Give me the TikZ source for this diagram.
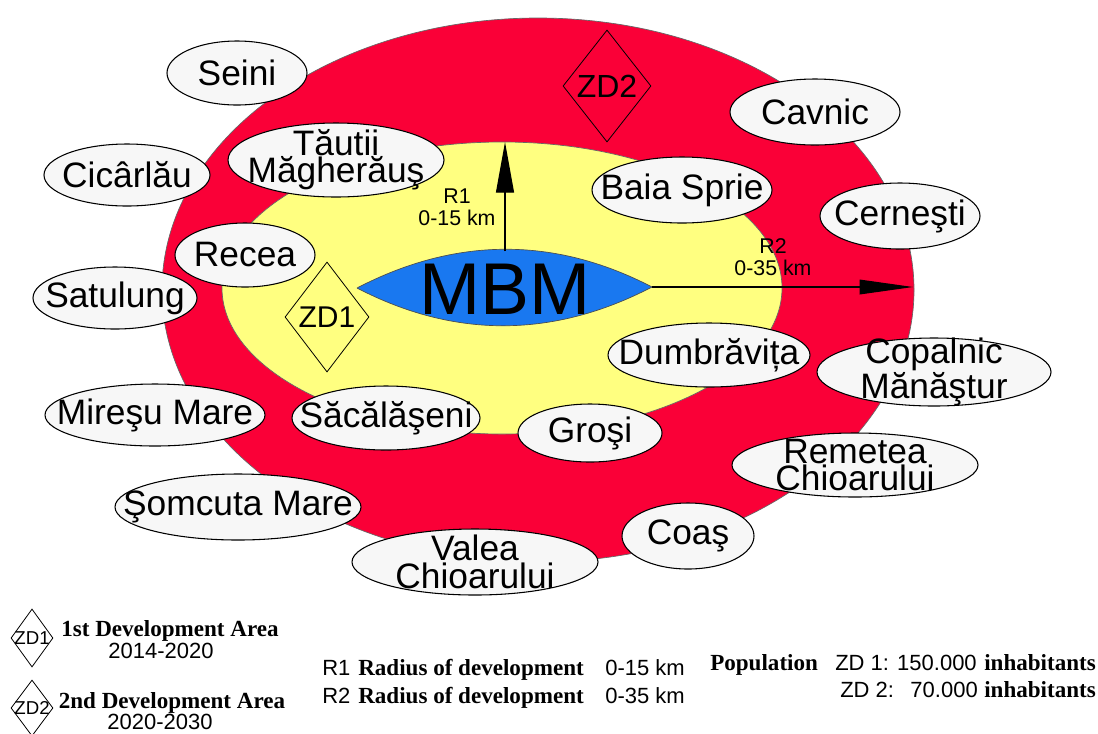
\documentclass[tikz,border=0pt]{standalone}
\usepackage{fontspec}
\setmainfont{Liberation Sans}
\newfontfamily\legserif{Liberation Serif}
\usetikzlibrary{shapes.geometric,arrows.meta}
\definecolor{ringred}{RGB}{250,0,55}
\definecolor{ringyellow}{RGB}{255,255,128}
\definecolor{mbmblue}{RGB}{25,120,240}
\definecolor{townfill}{RGB}{247,247,247}
\begin{document}
\begin{tikzpicture}[x=0.75pt,y=-0.75pt,
  townlbl/.style={font=\fontsize{26.5}{20.5}\selectfont, align=center, inner sep=0pt},
  town/.style n args={3}{ellipse, draw=black, line width=0.8pt, fill=townfill, inner sep=0pt,
    minimum width=#1*1.5pt, minimum height=#2*1.5pt, label={[townlbl]center:#3}},
  zdbig/.style n args={4}{diamond, draw=black, line width=0.6pt, inner sep=0pt,
    minimum width=#1*0.75pt, minimum height=#2*0.75pt,
    label={[font=\fontsize{#3}{#3}\selectfont, inner sep=0pt]center:#4}},
  rlbl/.style={font=\fontsize{16}{16.5}\selectfont, align=center, inner sep=0pt},
  legs/.style={font=\legserif\bfseries\fontsize{17.3}{18}\selectfont, inner sep=0pt},
  legn/.style={font=\fontsize{16.5}{18}\selectfont, inner sep=0pt},
  radarrow/.style={line width=0.9pt}
]
\useasboundingbox (0,0) rectangle (1098,733);
\fill[white] (0,0) rectangle (1098,733);

% rings
\draw[fill=ringred, draw=black!60, line width=0.5pt] (538,290) ellipse [x radius=282pt, y radius=204pt];
\draw[fill=ringyellow, draw=black!60, line width=0.5pt] (502,288) ellipse [x radius=210pt, y radius=109.5pt];

% MBM lens
\draw[fill=mbmblue, draw=black!70, line width=0.5pt]
  (357,288) .. controls (455,237) and (554,236) .. (652,287)
  .. controls (554,338) and (455,339) .. (357,288);
\node[font=\fontsize{55}{55}\selectfont, inner sep=0pt] (mbm) at (505,289) {MBM};

% radius arrows
\coordinate (r1from) at (505,251);
\coordinate (r1to) at (505,142);
\coordinate (r2from) at (652,287);
\coordinate (r2to) at (913,287);
\draw[radarrow, -{Triangle[length=38pt,width=13.5pt]}] (r1from) -- (r1to);
\draw[radarrow, -{Triangle[length=40pt,width=11pt]}] (r2from) -- (r2to);
\node[rlbl] (r1lbl) at (457,207) {R1\\0-15 km};
\node[rlbl] (r2lbl) at (773,257) {R2\\0-35 km};

% development zones
\node[zdbig={88}{112}{24}{ZD2}] (zd2) at (607,86) {};
\node[zdbig={84}{110}{22.5}{ZD1}] (zd1) at (327,317) {};

% towns
\node[town={70}{32}{Seini}] (seini) at (237,73) {};
\node[town={83}{31}{Cicârlău}] (cicarlau) at (127,175) {};
\node[town={108}{37}{Tăutii\\Măgherăuş}] (tautii) at (336,160) {};
\node[town={90}{33}{Baia Sprie}] (baia) at (682,190) {};
\node[town={85}{33}{Cavnic}] (cavnic) at (815,112) {};
\node[town={80}{33}{Cerneşti}] (cernesti) at (900,216) {};
\node[town={70}{32}{Recea}] (recea) at (245,255) {};
\node[town={82}{31}{Satulung}] (satulung) at (115,298) {};
\node[town={101}{32}{Dumbrăvița}] (dumbravita) at (709,355) {};
\node[town={117}{34}{Copalnic\\Mănăştur}] (copalnic) at (934,372) {};
\node[town={110}{31}{Mireşu Mare}] (miresu) at (155,415) {};
\node[town={94}{32}{Săcălăşeni}] (sacalaseni) at (386,418) {};
\node[town={72}{29}{Groşi}] (grosi) at (590,433) {};
\node[town={123}{32}{Remetea\\Chioarului}] (remetea) at (855,465) {};
\node[town={123}{33}{Şomcuta Mare}] (somcuta) at (238,507) {};
\node[town={66}{33}{Coaş}] (coas) at (688,536) {};
\node[town={123}{33}{Valea\\Chioarului}] (valea) at (475,562) {};

% legend left
\node[zdbig={42}{58}{14}{ZD1}] (lzd1) at (32,638) {};
\node[legs, anchor=base] (l1a) at (170,636) {1st Development Area};
\node[legn, anchor=base] (l1b) at (161,658) {2014-2020};
\node[zdbig={42}{56}{14}{ZD2}] (lzd2) at (32,708) {};
\node[legs, anchor=base] (l2a) at (172,708) {2nd Development Area};
\node[legn, anchor=base] (l2b) at (160,729) {2020-2030};

% legend middle
\node[legn, anchor=base west] (lr1) at (322,675) {R1};
\node[legs, anchor=base west] (lr1t) at (358,675) {Radius of development};
\node[legn, anchor=base west] (lr1v) at (605,675) {0-15 km};
\node[legn, anchor=base west] (lr2) at (322,703) {R2};
\node[legs, anchor=base west] (lr2t) at (358,703) {Radius of development};
\node[legn, anchor=base west] (lr2v) at (605,703) {0-35 km};

% legend right
\node[legs, anchor=base west] (lpop) at (710,670) {Population};
\node[legn, anchor=base west] (lp1) at (835,670) {ZD 1: 150.000};
\node[legs, anchor=base west] (lp1i) at (984,670) {inhabitants};
\node[legn, anchor=base west] (lp2) at (840,697) {ZD 2:};
\node[legn, anchor=base east] (lp2v) at (978,697) {70.000};
\node[legs, anchor=base west] (lp2i) at (984,697) {inhabitants};
\end{tikzpicture}
\end{document}
